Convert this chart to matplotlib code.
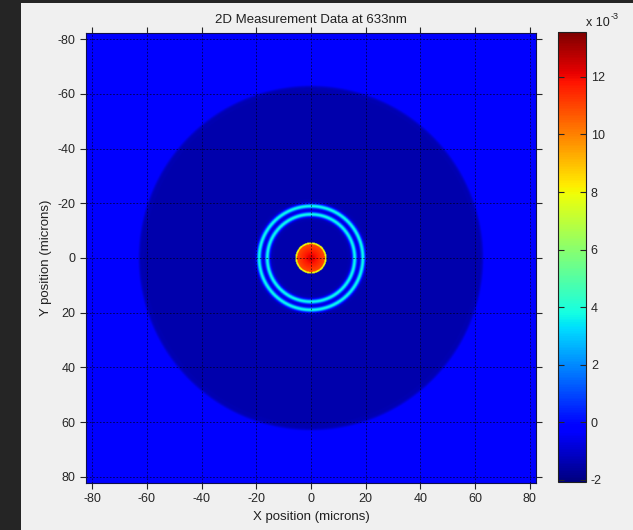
import numpy as np
import matplotlib
matplotlib.use('Agg')
from matplotlib import pyplot as plt
from matplotlib.patches import Rectangle

plt.rcParams['font.family'] = ['Liberation Sans', 'DejaVu Sans']
plt.rcParams['axes.unicode_minus'] = False

# picture values (microns / field units)
x_ticks = [-80, -60, -40, -20, 0, 20, 40, 60, 80]
y_ticks = [-80, -60, -40, -20, 0, 20, 40, 60, 80]
cbar_ticks = [-2, 0, 2, 4, 6, 8, 10, 12]
half_width = 82.3
disk_radius = 63.0
outer_level = -0.1e-3
disk_level = -1.4e-3
ring_radii = [16.0, 19.0]
ring_peaks = [3.8e-3, 3.8e-3]
ring_sigma = 0.62
spot_radius = 5.7
spot_center_level = 12.4e-3
spot_edge_level = 10.9e-3
rim_level = 8.0e-3
clim = [-2.07e-3, 13.56e-3]

# build the field on a grid
n = 700
xs = np.linspace(-half_width, half_width, n)
X, Y = np.meshgrid(xs, xs)
R = np.hypot(X, Y)

edge = 0.5 * (1 - np.tanh((R - disk_radius) / 0.6))
Z = outer_level + (disk_level - outer_level) * edge
for rr, pk in zip(ring_radii, ring_peaks):
    Z = Z + (pk - disk_level) * np.exp(-(R - rr) ** 2 / (2 * ring_sigma ** 2))

# central spot: red core, thin pale rim
spot_val = spot_center_level + (spot_edge_level - spot_center_level) * np.clip(R / (spot_radius - 0.6), 0, 1)
core = 1.0 / (1.0 + np.exp((R - (spot_radius - 0.6)) / 0.12))
rim = 1.0 / (1.0 + np.exp((R - spot_radius) / 0.1))
Z = np.where(rim > 0.5, rim_level, Z)
Z = np.where(core > 0.5, spot_val, Z)

fig = plt.figure(figsize=(6.33, 5.30), dpi=100)
fig.patch.set_facecolor('#f0f0f0')
# dark screenshot border
fig.patches.append(Rectangle((0, 0), 21 / 633, 1, transform=fig.transFigure,
                             facecolor='#252525', edgecolor='none', zorder=0))
fig.patches.append(Rectangle((0, 1 - 3 / 530), 1, 3 / 530, transform=fig.transFigure,
                             facecolor='#252525', edgecolor='none', zorder=0))

ax = fig.add_axes([86 / 633, 1 - 483 / 530, 450 / 633, 450 / 530])
im = ax.imshow(Z, cmap='jet', vmin=clim[0], vmax=clim[1], origin='upper',
               extent=[-half_width, half_width, half_width, -half_width],
               interpolation='bilinear')
ax.set_xticks(x_ticks)
ax.set_yticks(y_ticks)
ax.set_xlim(-half_width, half_width)
ax.set_ylim(half_width, -half_width)
ax.grid(True, color='black', linestyle=(0, (2, 2)), linewidth=0.6, alpha=0.7)
ax.tick_params(direction='out', length=4, width=0.8, labelsize=9, top=True, right=True,
               colors='#262626')
for s in ax.spines.values():
    s.set_color('#10104a')
    s.set_linewidth(0.8)
ax.set_title('2D Measurement Data at 633nm', fontsize=9.5, pad=7, color='#202020')
ax.set_xlabel('X position (microns)', fontsize=9.5, labelpad=4, color='#202020')
ax.set_ylabel('Y position (microns)', fontsize=9.5, labelpad=4, color='#202020')

cax = fig.add_axes([558 / 633, 1 - 482 / 530, 28 / 633, 450 / 530])
cb = fig.colorbar(im, cax=cax)
cb.set_ticks([t * 1e-3 for t in cbar_ticks])
cb.set_ticklabels([str(t) for t in cbar_ticks])
cax.tick_params(direction='in', length=4, width=0.8, labelsize=9, left=True, right=True,
                colors='#262626')
cb.outline.set_linewidth(0.8)
cb.outline.set_edgecolor('#202020')
# colorbar exponent label "x 10^-3"
fig.text(586 / 633, 1 - 26 / 530, 'x 10', fontsize=9, color='#202020',
         ha='left', va='baseline')
fig.text(611 / 633, 1 - 19 / 530, '-3', fontsize=6.5, color='#202020',
         ha='left', va='baseline')

fig.savefig('out.png', dpi=100, facecolor=fig.get_facecolor())
